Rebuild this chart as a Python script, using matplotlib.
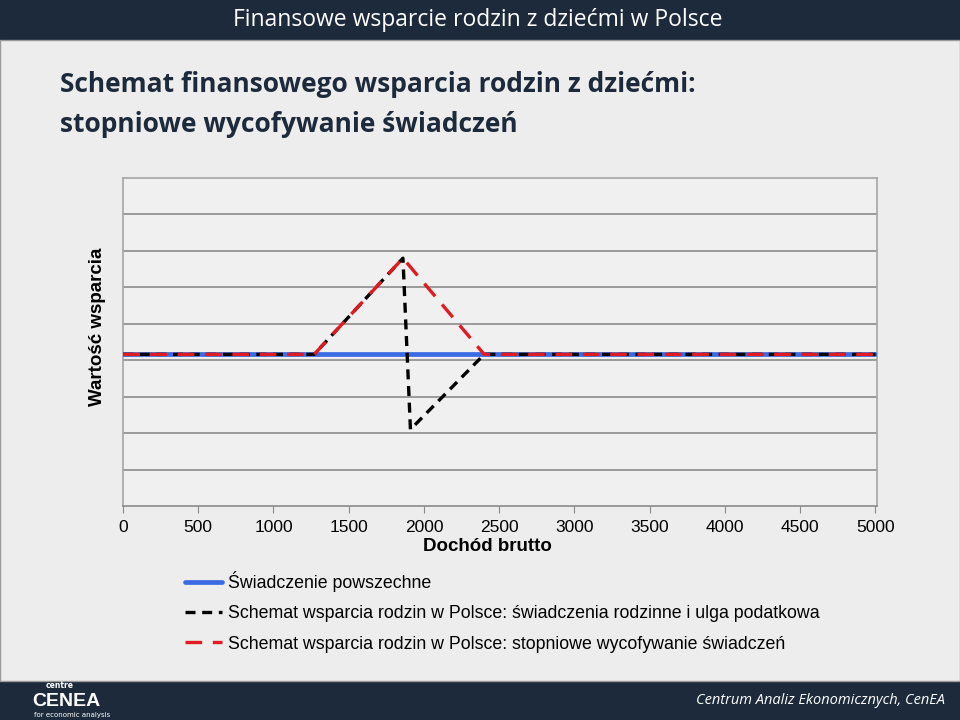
import matplotlib
matplotlib.use("Agg")
import matplotlib.pyplot as plt
from matplotlib.patches import Rectangle

# income (x) and support value (y)
x_flat = [0, 5000]
y_flat = [4.16, 4.16]

x_black = [0, 1270, 1860, 1910, 2400, 5000]
y_black = [4.16, 4.16, 6.8, 2.1, 4.16, 4.16]

x_red = [0, 1270, 1860, 2400, 5000]
y_red = [4.16, 4.16, 6.8, 4.16, 4.16]

x_ticks = [0, 500, 1000, 1500, 2000, 2500, 3000, 3500, 4000, 4500, 5000]
y_grid = [1, 2, 3, 4, 5, 6, 7, 8]

labels = ["Świadczenie powszechne",
          "Schemat wsparcia rodzin w Polsce: świadczenia rodzinne i ulga podatkowa",
          "Schemat wsparcia rodzin w Polsce: stopniowe wycofywanie świadczeń"]

navy = "#1c2a3b"
arial = ["Liberation Sans", "DejaVu Sans"]
calibri = ["Open Sans", "DejaVu Sans"]

fig = plt.figure(figsize=(9.6, 7.2), dpi=100, facecolor="#ededed")

# header / footer bars
fig.patches.append(Rectangle((0, 680 / 720), 1, 40 / 720, transform=fig.transFigure,
                             facecolor=navy, edgecolor="none"))
fig.patches.append(Rectangle((0, 0), 1, 39 / 720, transform=fig.transFigure,
                             facecolor=navy, edgecolor="none"))
fig.patches.append(Rectangle((0.0005, 39 / 720), 0.999, 641 / 720, transform=fig.transFigure,
                             facecolor="none", edgecolor="#9a9a9a", linewidth=1))

fig.text(478 / 960, 1 - 20 / 720, "Finansowe wsparcie rodzin z dziećmi w Polsce",
         color="white", fontsize=16.5, ha="center", va="center", family=calibri)
fig.text(60 / 960, 1 - 85 / 720, "Schemat finansowego wsparcia rodzin z dziećmi:",
         color=navy, fontsize=19, fontweight="bold", ha="left", va="center", family=calibri)
fig.text(60 / 960, 1 - 125 / 720, "stopniowe wycofywanie świadczeń",
         color=navy, fontsize=19, fontweight="bold", ha="left", va="center", family=calibri)

fig.text(945 / 960, 19 / 720, "Centrum Analiz Ekonomicznych, CenEA", color="white",
         fontsize=10.5, style="italic", ha="right", va="center", family=calibri)
fig.text(60 / 960, 34 / 720, "centre", color="white", fontsize=5.5, fontweight="bold",
         ha="center", va="center")
fig.text(66 / 960, 19 / 720, "CENEA", color="white", fontsize=14, fontweight="heavy",
         ha="center", va="center", family=arial)
fig.text(72 / 960, 4.5 / 720, "for economic analysis", color="white", fontsize=5,
         ha="center", va="center")

ax = fig.add_axes([123 / 960, 214 / 720, 754 / 960, 328 / 720])
ax.set_facecolor("#f0f0f0")

blue_line, = ax.plot(x_flat, y_flat, color="#3b6ae3", linewidth=3.4,
                     solid_capstyle="round", zorder=3)
black_line, = ax.plot(x_black, y_black, color="black", linewidth=2.4,
                      dashes=(3.0, 2.0), zorder=4)
red_line, = ax.plot(x_red, y_red, color="#e01b22", linewidth=2.4,
                    dashes=(5.0, 3.2), zorder=5)

ax.set_xlim(0, 5010)
ax.set_ylim(0, 9)
ax.set_xticks(x_ticks)
ax.set_xticklabels([str(t) for t in x_ticks], family=arial, fontsize=12.5)
ax.set_yticks(y_grid)
ax.set_yticklabels([])
ax.tick_params(axis="y", length=0)
ax.tick_params(axis="x", direction="out", length=5, color="#8a8a8a", pad=5)
ax.grid(axis="y", color="#8c8c8c", linewidth=1.2)
ax.set_axisbelow(True)
for s in ax.spines.values():
    s.set_color("#a6a6a6")
    s.set_linewidth(1.2)
ax.spines["bottom"].set_color("#8a8a8a")

ax.set_xlabel("Dochód brutto", family=arial, fontsize=13.5, fontweight="bold")
ax.xaxis.set_label_coords((487 - 123) / 754, -0.097)
ax.set_ylabel("Wartość wsparcia", family=arial, fontsize=13.5, fontweight="bold")
ax.yaxis.set_label_coords(-0.023, (506 - 327) / 328)

fig.legend([blue_line, black_line, red_line], labels, loc="upper left",
           bbox_to_anchor=(169 / 960, 1 - 555 / 720), frameon=False,
           prop={"family": arial, "size": 12.8}, handlelength=2.1, handletextpad=0.3,
           labelspacing=0.75)

fig.savefig("out.png", dpi=100, facecolor=fig.get_facecolor())
